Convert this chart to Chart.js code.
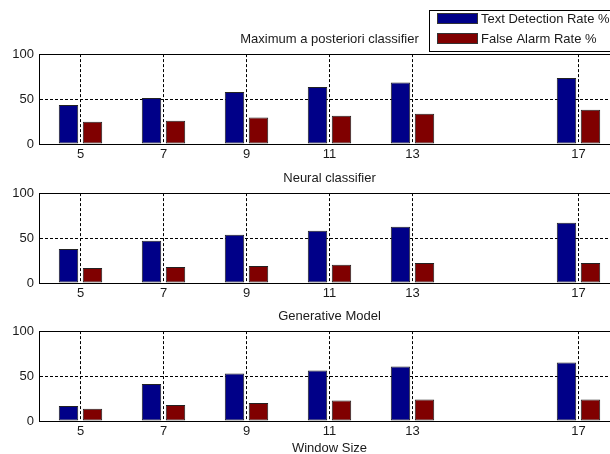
<!DOCTYPE html>
<html>
<head>
<meta charset="utf-8">
<script src="https://cdn.jsdelivr.net/npm/chart.js@4/dist/chart.umd.min.js"></script>
<style>
  html, body { margin: 0; padding: 0; background: #fff; overflow: hidden; }
  #wrap { position: relative; width: 610px; height: 454px; overflow: hidden; }
  canvas { position: absolute; left: 0; }
</style>
</head>
<body>
<div id="wrap">
  <canvas id="c1" width="620" height="177" style="top:0px"></canvas>
  <canvas id="c2" width="620" height="177" style="top:139px"></canvas>
  <canvas id="c3" width="620" height="179" style="top:277px"></canvas>
</div>
<script>
const windowSizes = [5, 7, 9, 11, 13, 17];
const seriesLabels = ['Text Detection Rate %', 'False Alarm Rate %'];
const panelTitles = ['Maximum a posteriori classifier', 'Neural classifier', 'Generative Model'];
const yTicks = [0, 50, 100];

const mapDetection = [43.5, 51.3, 57.9, 63.5, 68.3, 73.4];
const mapFalseAlarm = [24.7, 25.8, 29.5, 31.4, 33.6, 38.0];
const neuralDetection = [37.8, 47.0, 53.7, 58.1, 62.6, 67.0];
const neuralFalseAlarm = [16.7, 17.8, 18.9, 20.4, 22.2, 22.2];
const generativeDetection = [16.7, 41.2, 52.8, 56.1, 60.6, 65.0];
const generativeFalseAlarm = [13.7, 17.8, 20.1, 22.7, 23.8, 23.8];

const colors = ['#000088', '#800000'];
const font = { family: '"Liberation Sans", Arial, Helvetica, sans-serif', size: 13 };
const textColor = '#1a1a1a';

// box around the plot area, like matlab's "box on"
const boxPlugin = {
  id: 'box',
  afterDatasetsDraw(chart) {
    const a = chart.chartArea, ctx = chart.ctx;
    ctx.save();
    ctx.strokeStyle = '#000';
    ctx.lineWidth = 1;
    ctx.strokeRect(Math.round(a.left) + 0.5, Math.round(a.top) + 0.5,
      Math.round(a.right - a.left), Math.round(a.bottom - a.top));
    ctx.restore();
  }
};

// legend box sitting top right, over the first panel
const legendPlugin = {
  id: 'boxLegend',
  afterDraw(chart) {
    const ctx = chart.ctx;
    ctx.save();
    ctx.fillStyle = '#fff';
    ctx.fillRect(429.5, 10.5, 200, 41);
    ctx.strokeStyle = '#000';
    ctx.lineWidth = 1;
    ctx.strokeRect(429.5, 10.5, 200, 41);
    ctx.font = font.size + 'px ' + font.family;
    ctx.textBaseline = 'middle';
    chart.data.datasets.forEach((ds, i) => {
      const y = 13 + i * 20;
      ctx.fillStyle = ds.backgroundColor;
      ctx.fillRect(437, y, 41, 11);
      ctx.strokeStyle = '#333';
      ctx.strokeRect(437.5, y + 0.5, 40, 10);
      ctx.fillStyle = textColor;
      ctx.fillText(ds.label, 481, y + 6);
    });
    ctx.restore();
  }
};

function makePanel(id, title, detection, falseAlarm, showXTitle, withLegend) {
  const toPoints = arr => windowSizes.map((w, i) => ({ x: w, y: arr[i] }));
  const datasets = [detection, falseAlarm].map((arr, i) => ({
    label: seriesLabels[i],
    data: toPoints(arr),
    backgroundColor: colors[i],
    borderColor: '#222',
    borderWidth: 1,
    borderSkipped: false,
    categoryPercentage: 0.578,
    barPercentage: 0.81
  }));

  new Chart(document.getElementById(id), {
    type: 'bar',
    data: { datasets },
    options: {
      responsive: false,
      animation: false,
      events: [],
      layout: { padding: { top: 32, left: 0, right: 0, bottom: 0 } },
      plugins: {
        legend: { display: false },
        tooltip: { enabled: false },
        title: {
          display: true,
          fullSize: false,
          text: title,
          color: textColor,
          font: { ...font, weight: 'normal' },
          padding: { top: 0, bottom: 6.5 }
        }
      },
      scales: {
        x: {
          type: 'linear',
          min: 4,
          max: 18,
          offset: false,
          afterBuildTicks: s => { s.ticks = windowSizes.map(v => ({ value: v })); },
          afterFit: s => { s.height = showXTitle ? 35 : 33; },
          ticks: {
            autoSkip: false,
            maxRotation: 0,
            padding: 3,
            color: textColor,
            font,
            callback: v => String(v)
          },
          grid: { offset: false, drawTicks: false, color: '#000', lineWidth: 1 },
          border: { display: true, color: '#000', dash: [3, 2] },
          title: {
            display: showXTitle,
            text: 'Window Size',
            color: textColor,
            font,
            padding: 0
          }
        },
        y: {
          min: 0,
          max: 100,
          afterBuildTicks: s => { s.ticks = yTicks.map(v => ({ value: v })); },
          afterFit: s => { s.width = 39; },
          ticks: { padding: 5, color: textColor, font },
          grid: {
            drawTicks: false,
            lineWidth: 1,
            color: c => (c.tick && c.tick.value === 50 ? '#000' : 'rgba(0,0,0,0)')
          },
          border: { display: true, color: '#000', dash: [3, 2] }
        }
      }
    },
    plugins: withLegend ? [boxPlugin, legendPlugin] : [boxPlugin]
  });
}

makePanel('c1', panelTitles[0], mapDetection, mapFalseAlarm, false, true);
makePanel('c2', panelTitles[1], neuralDetection, neuralFalseAlarm, false, false);
makePanel('c3', panelTitles[2], generativeDetection, generativeFalseAlarm, true, false);
</script>
</body>
</html>
